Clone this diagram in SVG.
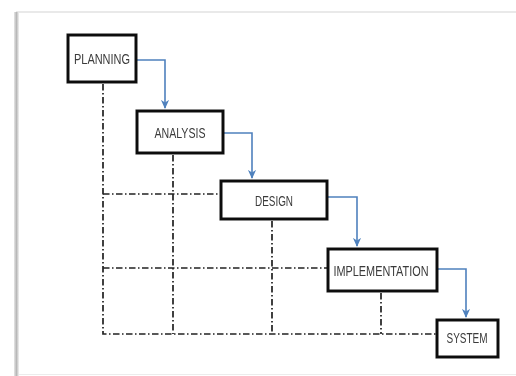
<svg xmlns="http://www.w3.org/2000/svg" width="516" height="376" viewBox="0 0 516 376">
  <defs>
    <linearGradient id="edgeShade" x1="0" y1="0" x2="1" y2="0">
      <stop offset="0" stop-color="#e6e6e6"/>
      <stop offset="0.5" stop-color="#b8b8b8"/>
      <stop offset="1" stop-color="#f2f2f2"/>
    </linearGradient>
    <marker id="arrowBlue" viewBox="0 0 10 10" refX="9" refY="5" markerWidth="9" markerHeight="9" markerUnits="userSpaceOnUse" orient="auto">
      <path d="M0,0.5 L10,5 L0,9.5 L3,5 Z" fill="#4f81bd"/>
    </marker>
    <filter id="soft" x="-5%" y="-5%" width="110%" height="110%">
      <feGaussianBlur stdDeviation="0.45"/>
    </filter>
  </defs>
  <style>
    .box { fill: #ffffff; stroke: #111111; stroke-width: 3; }
    .label { font-family: "Liberation Sans", Arial, sans-serif; font-size: 15px; fill: #3a3a3a; text-anchor: middle; }
    .flow { fill: none; stroke: #4f81bd; stroke-width: 1.6; marker-end: url(#arrowBlue); }
    .guide { fill: none; stroke: #222222; stroke-width: 1.7; stroke-dasharray: 6.5 2.5 1.5 2.5; }
  </style>

  <!-- page background and sheet edges -->
  <rect x="0" y="0" width="516" height="376" fill="#ffffff"/>
  <line x1="16" y1="12" x2="516" y2="12" stroke="#e2e2e2" stroke-width="1.5"/>
  <rect x="14" y="12" width="5" height="364" fill="url(#edgeShade)"/>
  <line x1="19" y1="374.5" x2="516" y2="374.5" stroke="#ececec" stroke-width="1"/>

  <g filter="url(#soft)">
    <!-- dash-dot guide lines -->
    <g id="connectors-guides">
      <path class="guide" d="M103,84 L103,334 L436,334"/>
      <path class="guide" d="M173,155 L173,334"/>
      <path class="guide" d="M272,221 L272,334"/>
      <path class="guide" d="M381,293 L381,334"/>
      <path class="guide" d="M103,194 L220,194"/>
      <path class="guide" d="M103,268 L327,268"/>
    </g>

    <!-- blue flow arrows -->
    <g id="connectors-flow">
      <path class="flow" d="M136,60 L165,60 L165,108"/>
      <path class="flow" d="M223,133 L252,133 L252,178"/>
      <path class="flow" d="M327,197 L357,197 L357,246"/>
      <path class="flow" d="M437,269 L466,269 L466,317"/>
    </g>

    <g id="planning">
      <rect class="box" x="68" y="35" width="68" height="47"/>
      <text class="label" x="102" y="63.5" textLength="56" lengthAdjust="spacingAndGlyphs">PLANNING</text>
    </g>

    <g id="analysis">
      <rect class="box" x="137" y="111" width="86" height="42"/>
      <text class="label" x="180" y="137.5" textLength="51" lengthAdjust="spacingAndGlyphs">ANALYSIS</text>
    </g>

    <g id="design">
      <rect class="box" x="221" y="181" width="106" height="38"/>
      <text class="label" x="274" y="205.5" textLength="38" lengthAdjust="spacingAndGlyphs">DESIGN</text>
    </g>

    <g id="implementation">
      <rect class="box" x="328" y="249" width="109" height="42"/>
      <text class="label" x="381" y="275.5" textLength="95" lengthAdjust="spacingAndGlyphs">IMPLEMENTATION</text>
    </g>

    <g id="system">
      <rect class="box" x="437" y="320" width="61" height="37"/>
      <text class="label" x="467" y="343" textLength="41" lengthAdjust="spacingAndGlyphs">SYSTEM</text>
    </g>
  </g>
</svg>
